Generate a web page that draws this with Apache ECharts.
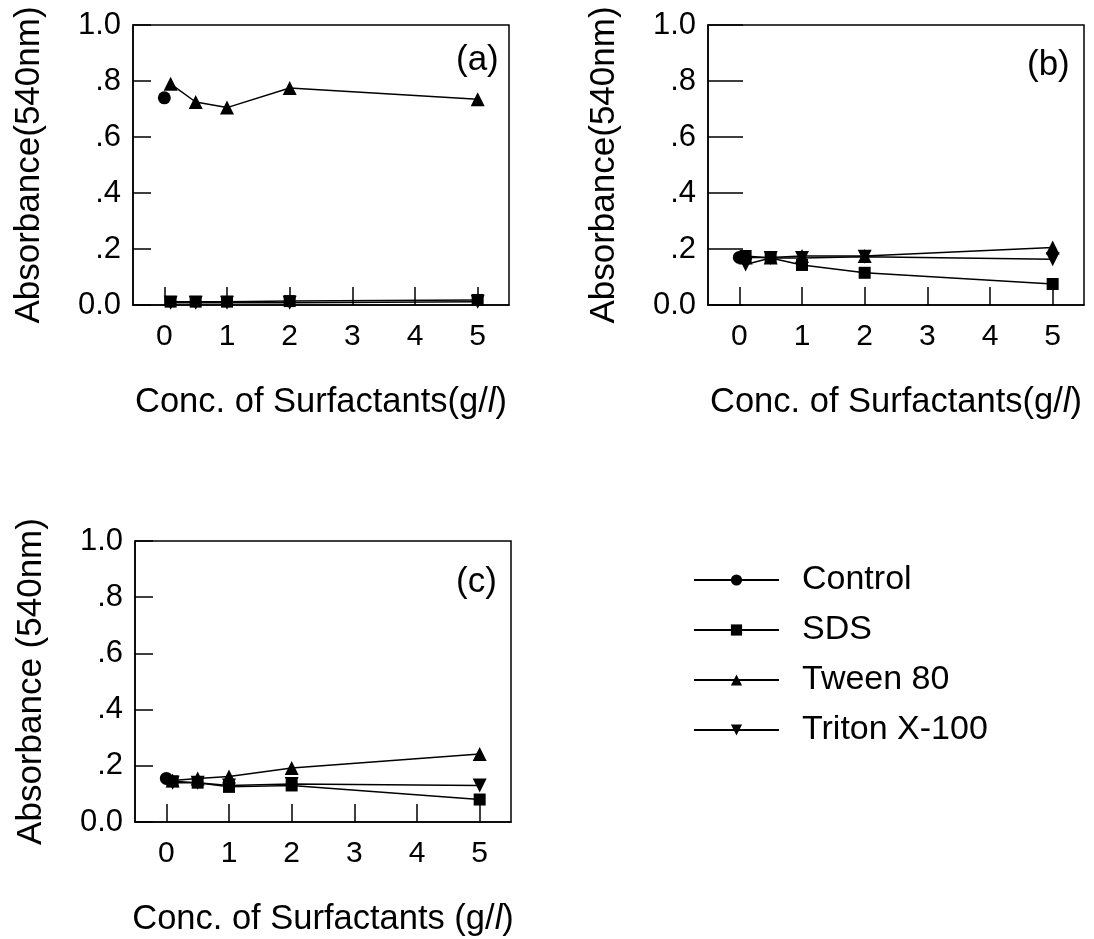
<!DOCTYPE html>
<html>
<head>
<meta charset="utf-8">
<title>Absorbance vs surfactant concentration</title>
<script src="https://cdn.jsdelivr.net/npm/echarts@6/dist/echarts.min.js"></script>
<style>
  html, body { margin: 0; padding: 0; background: #fff; }
  #chart { width: 1094px; height: 939px; }
</style>
</head>
<body>
<div id="chart"></div>
<script>
// concentrations (g/l) used for the surfactant series; control sits at 0
const conc = [0.1, 0.5, 1, 2, 5];
const controlConc = 0;

const xTicks = [0, 1, 2, 3, 4, 5];
const yTicks = [0, 0.2, 0.4, 0.6, 0.8, 1.0];
const yTickLabels = ['0.0', '.2', '.4', '.6', '.8', '1.0'];

const seriesNames = ['Control', 'SDS', 'Tween 80', 'Triton X-100'];

// panel (a)
const controlA = 0.74;
const sdsA = [0.012, 0.012, 0.012, 0.014, 0.018];
const tweenA = [0.79, 0.725, 0.705, 0.775, 0.735];
const tritonA = [0.008, 0.008, 0.008, 0.008, 0.012];

// panel (b)
const controlB = 0.17;
const sdsB = [0.175, 0.168, 0.143, 0.115, 0.075];
const tweenB = [0.17, 0.17, 0.175, 0.175, 0.205];
const tritonB = [0.145, 0.168, 0.168, 0.172, 0.163];

// panel (c)
const controlC = 0.155;
const sdsC = [0.145, 0.14, 0.125, 0.13, 0.08];
const tweenC = [0.148, 0.155, 0.162, 0.192, 0.242];
const tritonC = [0.14, 0.14, 0.13, 0.135, 0.13];

const panels = [
  { tag: '(a)', control: controlA, sds: sdsA, tween: tweenA, triton: tritonA,
    xName: 'Conc. of Surfactants(g/{i|l})', yName: 'Absorbance(540nm)' },
  { tag: '(b)', control: controlB, sds: sdsB, tween: tweenB, triton: tritonB,
    xName: 'Conc. of Surfactants(g/{i|l})', yName: 'Absorbance(540nm)' },
  { tag: '(c)', control: controlC, sds: sdsC, tween: tweenC, triton: tritonC,
    xName: 'Conc. of Surfactants (g/{i|l})', yName: 'Absorbance (540nm)' }
];

const FONT = '"Liberation Sans", Arial, sans-serif';
const grids = [
  { left: 133, top: 25, width: 376, height: 280 },
  { left: 708, top: 25, width: 376, height: 280 },
  { left: 135, top: 541, width: 376, height: 281 }
];
const yTickLen = [18, 35, 18];
// where the (a)/(b)/(c) tags sit
const tagPos = [[456, 43], [1027, 48], [456, 565]];

const chart = echarts.init(document.getElementById('chart'), null, { renderer: 'canvas' });

const option = {
  animation: false,
  backgroundColor: '#fff',
  textStyle: { fontFamily: FONT, color: '#000' },
  grid: grids.map(g => Object.assign({
    show: true, borderColor: '#000', borderWidth: 1.5, backgroundColor: 'transparent'
  }, g)),
  title: panels.map((p, i) => ({
    text: p.tag,
    left: tagPos[i][0],
    top: tagPos[i][1],
    padding: 0,
    textStyle: { fontFamily: FONT, fontSize: 35, fontWeight: 'normal', color: '#000' }
  })),
  legend: {
    orient: 'vertical',
    left: 688,
    top: 557,
    itemWidth: 85,
    itemHeight: 14,
    itemGap: 14,
    selectedMode: false,
    data: seriesNames,
    textStyle: { fontFamily: FONT, fontSize: 34, color: '#000', lineHeight: 36, padding: [0, 0, 0, 18] }
  },
  xAxis: panels.map((p, i) => ({
    type: 'value',
    gridIndex: i,
    min: -0.5,
    max: 5.5,
    name: p.xName,
    nameLocation: 'middle',
    nameGap: 80,
    nameTextStyle: {
      fontFamily: FONT, fontSize: 34.5, color: '#000',
      rich: { i: { fontFamily: FONT, fontSize: 34.5, fontStyle: 'italic', color: '#000' } }
    },
    axisLine: { show: true, onZero: false, lineStyle: { color: '#000', width: 1.5 } },
    axisTick: { show: true, inside: true, length: 18, customValues: xTicks,
      lineStyle: { color: '#000', width: 1.5 } },
    axisLabel: { show: true, customValues: xTicks, margin: 17,
      fontFamily: FONT, fontSize: 30, color: '#000' },
    splitLine: { show: false }
  })),
  yAxis: panels.map((p, i) => ({
    type: 'value',
    gridIndex: i,
    min: 0,
    max: 1,
    interval: 0.2,
    name: p.yName,
    nameLocation: 'middle',
    nameGap: 86,
    nameTextStyle: { fontFamily: FONT, fontSize: 35, color: '#000' },
    axisLine: { show: true, onZero: false, lineStyle: { color: '#000', width: 1.5 } },
    axisTick: { show: true, inside: true, length: yTickLen[i],
      lineStyle: { color: '#000', width: 1.5 } },
    axisLabel: {
      margin: 12, fontFamily: FONT, fontSize: 31, color: '#000',
      formatter: v => {
        const k = yTicks.findIndex(t => Math.abs(t - v) < 1e-6);
        return k >= 0 ? yTickLabels[k] : '';
      }
    },
    splitLine: { show: false }
  })),
  series: []
};

const lineStyle = { color: '#000', width: 1.5 };
panels.forEach((p, i) => {
  const pair = arr => conc.map((x, k) => [x, arr[k]]);
  option.series.push(
    { name: 'Control', type: 'line', xAxisIndex: i, yAxisIndex: i,
      symbol: 'circle', symbolSize: 13, itemStyle: { color: '#000' }, lineStyle,
      data: [[controlConc, p.control]] },
    { name: 'SDS', type: 'line', xAxisIndex: i, yAxisIndex: i,
      symbol: 'rect', symbolSize: 12, itemStyle: { color: '#000' }, lineStyle,
      data: pair(p.sds) },
    { name: 'Tween 80', type: 'line', xAxisIndex: i, yAxisIndex: i,
      symbol: 'triangle', symbolSize: 14, itemStyle: { color: '#000' }, lineStyle,
      data: pair(p.tween) },
    { name: 'Triton X-100', type: 'line', xAxisIndex: i, yAxisIndex: i,
      symbol: 'triangle', symbolRotate: 180, symbolSize: 14, itemStyle: { color: '#000' }, lineStyle,
      data: pair(p.triton) }
  );
});

chart.setOption(option);
</script>
</body>
</html>
